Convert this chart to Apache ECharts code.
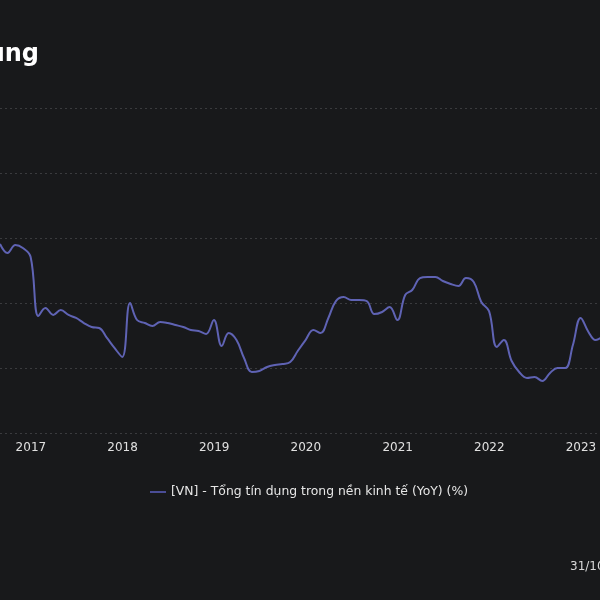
<!DOCTYPE html>
<html>
<head>
<meta charset="utf-8">
<script src="https://cdn.jsdelivr.net/npm/echarts@6/dist/echarts.min.js"></script>
<style>
  html, body { margin: 0; padding: 0; background: #18191b; overflow: hidden; width: 600px; height: 600px; }
  #chart { position: absolute; left: -60px; top: 0; width: 740px; height: 600px; }
</style>
</head>
<body>
<div id="chart"></div>
<script>
const titleText = 'Tăng trưởng tín dụng';
const seriesName = '[VN] - Tổng tín dụng trong nền kinh tế (YoY) (%)';
const footText = '31/10/2023';

const months = [
  '2016-08-31','2016-09-30','2016-10-31','2016-11-30','2016-12-31',
  '2017-01-31','2017-02-28','2017-03-31','2017-04-30','2017-05-31','2017-06-30',
  '2017-07-31','2017-08-31','2017-09-30','2017-10-31','2017-11-30','2017-12-31',
  '2018-01-31','2018-02-28','2018-03-31','2018-04-30','2018-05-31','2018-06-30',
  '2018-07-31','2018-08-31','2018-09-30','2018-10-31','2018-11-30','2018-12-31',
  '2019-01-31','2019-02-28','2019-03-31','2019-04-30','2019-05-31','2019-06-30',
  '2019-07-31','2019-08-31','2019-09-30','2019-10-31','2019-11-30','2019-12-31',
  '2020-01-31','2020-02-29','2020-03-31','2020-04-30','2020-05-31','2020-06-30',
  '2020-07-31','2020-08-31','2020-09-30','2020-10-31','2020-11-30','2020-12-31',
  '2021-01-31','2021-02-28','2021-03-31','2021-04-30','2021-05-31','2021-06-30',
  '2021-07-31','2021-08-31','2021-09-30','2021-10-31','2021-11-30','2021-12-31',
  '2022-01-31','2022-02-28','2022-03-31','2022-04-30','2022-05-31','2022-06-30',
  '2022-07-31','2022-08-31','2022-09-30','2022-10-31','2022-11-30','2022-12-31',
  '2023-01-31','2023-02-28','2023-03-31'
];
const values = [
  14.54, 13.85, 14.46, 14.23, 13.54,
  9.00, 9.62, 9.08, 9.46, 9.08, 8.85,
  8.46, 8.15, 8.08, 7.31, 6.54, 5.85,
  10.00, 8.69, 8.46, 8.23, 8.54, 8.46,
  8.31, 8.15, 7.92, 7.85, 7.62, 8.69,
  6.69, 7.69, 7.15, 5.77, 4.69, 4.77,
  5.08, 5.23, 5.31, 5.46, 6.31, 7.15,
  7.92, 7.69, 8.85, 10.15, 10.46, 10.23,
  10.23, 10.15, 9.15, 9.31, 9.69, 8.69,
  10.62, 11.00, 11.92, 12.00, 12.00, 11.69,
  11.46, 11.31, 11.92, 11.62, 10.08, 9.38,
  6.62, 7.15, 5.54, 4.69, 4.23, 4.31,
  4.00, 4.62, 5.00, 5.00, 6.77, 8.85,
  7.77, 7.15, 7.46
];
const yMin = 0, yMax = 25, yStep = 5;

const chart = echarts.init(document.getElementById('chart'), null, { renderer: 'canvas' });
chart.setOption({
  backgroundColor: '#18191b',
  animation: false,
  title: {
    text: titleText,
    right: 740 - 60 - 39,
    top: 43,
    padding: 0,
    textStyle: { color: '#ffffff', fontSize: 24, fontWeight: 'bold', fontFamily: 'DejaVu Sans' }
  },
  graphic: [{
    type: 'text',
    left: 630,
    top: 561,
    style: { text: footText, fill: '#d8d8d8', fontSize: 12, fontFamily: 'DejaVu Sans' }
  }],
  legend: {
    data: [seriesName],
    left: 205,
    top: 481,
    itemWidth: 16,
    itemHeight: 2,
    icon: 'rect',
    textStyle: { color: '#e6e6e6', fontSize: 12.4, fontFamily: 'DejaVu Sans' }
  },
  grid: { left: 60, right: 23, top: 108, bottom: 167 },
  xAxis: {
    type: 'time',
    min: '2016-08-31',
    max: '2023-10-31',
    splitNumber: 7,
    axisLine: { show: false },
    axisTick: { show: false },
    splitLine: { show: false },
    axisLabel: {
      color: '#e0e0e0', fontSize: 12, fontFamily: 'DejaVu Sans', margin: 9,
      formatter: '{yyyy}'
    }
  },
  yAxis: {
    type: 'value',
    min: yMin, max: yMax, interval: yStep,
    axisLine: { show: false },
    axisTick: { show: false },
    axisLabel: { color: '#e0e0e0', fontSize: 12 },
    splitLine: { lineStyle: { color: '#3a3b3e', type: [2, 3], width: 1 } }
  },
  series: [{
    name: seriesName,
    type: 'line',
    data: months.map((m, i) => [m, values[i]]),
    smooth: 0.4,
    showSymbol: false,
    lineStyle: { color: '#5f63b4', width: 2 },
    itemStyle: { color: '#4a4d96' }
  }]
});
</script>
</body>
</html>
